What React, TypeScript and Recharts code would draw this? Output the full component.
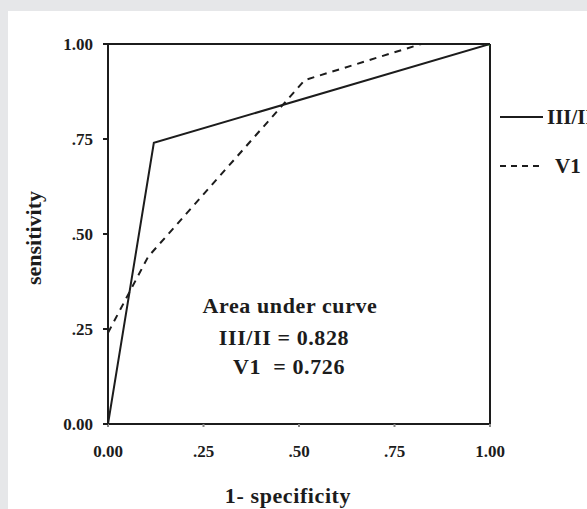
import { LineChart, Line, XAxis, YAxis, ReferenceLine, Label } from "recharts"

// ROC curves
const tickValues = [0, 0.25, 0.5, 0.75, 1]
const tickLabels = ["0.00", ".25", ".50", ".75", "1.00"]

const fprIII = [0, 0.12, 1]
const tprIII = [0, 0.74, 1]

const fprV1 = [0, 0.105, 0.515, 0.82, 1]
const tprV1 = [0.24, 0.44, 0.905, 1, 1]

// green reference pieces visible on the frame
const fprRefLow = [0, 0]
const tprRefLow = [0, 0.24]
const fprRefTop = [0.985, 1]
const tprRefTop = [1, 1]

const seriesNames = ["III/II", "V1"]
const aucLabels = ["Area under curve", "III/II = 0.828", "V1  = 0.726"]

const toPoints = (xs: number[], ys: number[]) => xs.map((x, i) => ({ x, y: ys[i] }))

const dataIII = toPoints(fprIII, tprIII)
const dataV1 = toPoints(fprV1, tprV1)
const dataRefLow = toPoints(fprRefLow, tprRefLow)
const dataRefTop = toPoints(fprRefTop, tprRefTop)

const FONT = "'Liberation Serif', 'Times New Roman', serif"
const INK = "#1c1c1c"

const fmt = (v: number) => tickLabels[tickValues.indexOf(v)] ?? String(v)

export default function App() {
  return (
    <div style={{ position: "fixed", left: 0, top: 0, width: 587, height: 509, background: "#e6e7e9", overflow: "hidden" }}>
      <div style={{ position: "absolute", left: 8, top: 11, right: 0, bottom: 0, background: "#ffffff" }} />
      <div style={{ position: "absolute", left: 0, top: 0 }}>
        <LineChart width={587} height={509} margin={{ top: 44, right: 97, bottom: 0, left: 0 }}>
          <XAxis
            type="number"
            dataKey="x"
            domain={[0, 1]}
            ticks={tickValues}
            tickFormatter={fmt}
            allowDataOverflow
            height={85}
            axisLine={{ stroke: INK, strokeWidth: 2 }}
            tickLine={{ stroke: "#888", strokeWidth: 2 }}
            tickSize={3}
            tickMargin={18}
            tick={{ fill: INK, fontFamily: FONT, fontWeight: "bold", fontSize: 17 }}
          >
            <Label
              content={({ viewBox }: any) => (
                <text
                  x={viewBox.x + viewBox.width / 2 - 11}
                  y={viewBox.y + 79}
                  textAnchor="middle"
                  fontFamily={FONT}
                  fontWeight="bold"
                  fontSize={22}
                  letterSpacing={0.6}
                  fill={INK}
                >
                  1- specificity
                </text>
              )}
            />
          </XAxis>
          <YAxis
            type="number"
            dataKey="y"
            domain={[0, 1]}
            ticks={tickValues}
            tickFormatter={fmt}
            allowDataOverflow
            width={108}
            axisLine={{ stroke: INK, strokeWidth: 2 }}
            tickLine={{ stroke: INK, strokeWidth: 2 }}
            tickSize={5}
            tickMargin={10}
            tick={{ fill: INK, fontFamily: FONT, fontWeight: "bold", fontSize: 17 }}
          >
            <Label
              content={() => (
                <text
                  x={0}
                  y={0}
                  transform="translate(41, 238) rotate(-90)"
                  textAnchor="middle"
                  fontFamily={FONT}
                  fontWeight="bold"
                  fontSize={22}
                  fill={INK}
                >
                  sensitivity
                </text>
              )}
            />
          </YAxis>
          <ReferenceLine y={1} stroke={INK} strokeWidth={2} />
          <ReferenceLine x={1} stroke={INK} strokeWidth={2} />
          <Line data={dataRefLow} dataKey="y" stroke="#2e6b2e" strokeWidth={2} dot={false} isAnimationActive={false} legendType="none" />
          <Line data={dataRefTop} dataKey="y" stroke="#33cc33" strokeWidth={3} dot={false} isAnimationActive={false} legendType="none" />
          <Line data={dataIII} dataKey="y" name={seriesNames[0]} stroke={INK} strokeWidth={2} dot={false} isAnimationActive={false} />
          <Line data={dataV1} dataKey="y" name={seriesNames[1]} stroke={INK} strokeWidth={2} strokeDasharray="7 6" dot={false} isAnimationActive={false} />
        </LineChart>
      </div>
      <svg width={587} height={509} style={{ position: "absolute", left: 0, top: 0, pointerEvents: "none" }}>
        <g fontFamily={FONT} fontWeight="bold" fill={INK}>
          <line x1={500} y1={117} x2={543} y2={117} stroke={INK} strokeWidth={2} />
          <text x={547} y={124} fontSize={21}>{seriesNames[0]}</text>
          <line x1={500} y1={166} x2={543} y2={166} stroke={INK} strokeWidth={2} strokeDasharray="6 5" />
          <text x={555} y={173} fontSize={21}>{seriesNames[1]}</text>
        </g>
        <g fontFamily={FONT} fontWeight="bold" fontSize={22} fill={INK} textAnchor="middle" letterSpacing={0.6}>
          <text x={290} y={313}>{aucLabels[0]}</text>
          <text x={284} y={345}>{aucLabels[1]}</text>
          <text x={289} y={374} style={{ whiteSpace: "pre" }}>{aucLabels[2]}</text>
        </g>
      </svg>
    </div>
  )
}
